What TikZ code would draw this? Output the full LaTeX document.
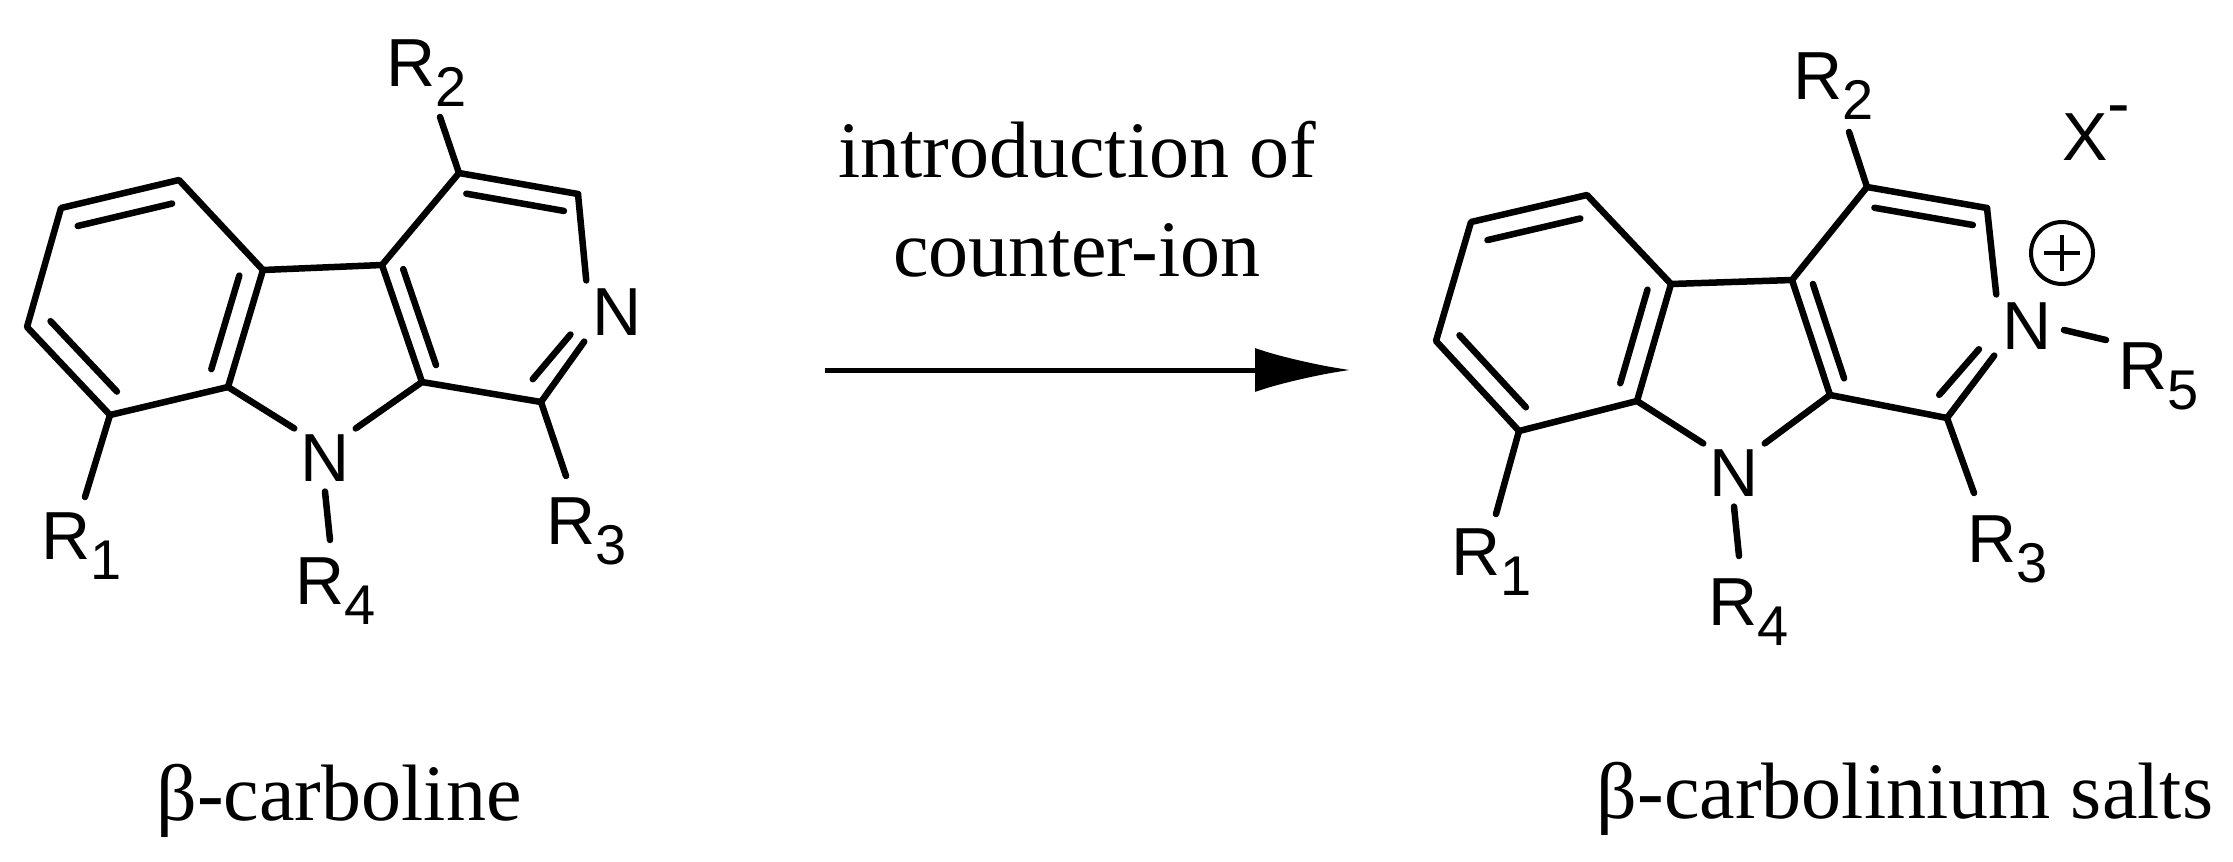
\documentclass[tikz,border=0pt]{standalone}
\usepackage{fontspec}
\setmainfont{Liberation Serif}
\newfontfamily\arial{Liberation Sans}
\usetikzlibrary{calc,arrows.meta}
\newcommand{\Rsub}[1]{R\raisebox{-0.3em}{\fontsize{56}{56}\selectfont #1}}
\begin{document}
\begin{tikzpicture}[x=1pt,y=-1pt,
  bond/.style={line width=6.5pt,line cap=round,line join=round},
  atom/.style={font={\arial\fontsize{68}{68}\selectfont},inner sep=0pt},
  rlab/.style={atom,anchor=base west},
  caption/.style={font={\fontsize{80}{82}\selectfont},inner sep=0pt,anchor=base}]
\useasboundingbox (0,0) rectangle (2233,862);
% left molecule
\coordinate (La1) at (179,180);
\coordinate (La2) at (61,208);
\coordinate (La3) at (27,327);
\coordinate (La4) at (110,415);
\coordinate (La5) at (228,387);
\coordinate (La6) at (263,270);
\coordinate (La7) at (382,265);
\coordinate (La8) at (459,173);
\coordinate (La9) at (578,194);
\coordinate (Lc1) at (541,402);
\coordinate (Lc9) at (422,382);
\coordinate (LNp) at (617,312);
\coordinate (LN9p) at (325,458);
\coordinate (Lr2) at (440,117);
\coordinate (Lr1) at (85,497);
\coordinate (Lr4) at (330,540);
\coordinate (Lr3) at (566,476);
\node[rlab] (LR2) at (386,86) {\Rsub{2}};
\node[rlab] (LR1) at (41,559) {\Rsub{1}};
\node[rlab] (LR4) at (295,604) {\Rsub{4}};
\node[rlab] (LR3) at (546,544) {\Rsub{3}};
% right molecule
\coordinate (Ra1) at (1587,195);
\coordinate (Ra2) at (1471,222);
\coordinate (Ra3) at (1436,341);
\coordinate (Ra4) at (1519,431);
\coordinate (Ra5) at (1637,401);
\coordinate (Ra6) at (1671,284);
\coordinate (Ra7) at (1792,280);
\coordinate (Ra8) at (1867,187);
\coordinate (Ra9) at (1987,208);
\coordinate (Rc1) at (1947,418);
\coordinate (Rc9) at (1830,395);
\coordinate (RNp) at (2027,326);
\coordinate (RN9p) at (1734,473);
\coordinate (Rr2) at (1849,132);
\coordinate (Rr1) at (1496,514);
\coordinate (Rr4) at (1739,556);
\coordinate (Rr3) at (1974,493);
\node[rlab] (RR2) at (1793,99) {\Rsub{2}};
\node[rlab] (RR1) at (1451,575) {\Rsub{1}};
\node[rlab] (RR4) at (1708,625) {\Rsub{4}};
\node[rlab] (RR3) at (1967,562) {\Rsub{3}};
\foreach \p in {L,R}{
\node[atom] (\p N2) at (\p Np) {N};
\node[atom] (\p N9) at (\p N9p) {N};
\coordinate (\p bc) at ($1/6*(\p a1)+1/6*(\p a2)+1/6*(\p a3)+1/6*(\p a4)+1/6*(\p a5)+1/6*(\p a6)$);
\coordinate (\p pc) at ($1/6*(\p a7)+1/6*(\p a8)+1/6*(\p a9)+1/6*(\p Np)+1/6*(\p c1)+1/6*(\p c9)$);
\draw[bond] (\p a1)--(\p a2)--(\p a3)--(\p a4)--(\p a5)--(\p a6)--cycle;
\draw[bond] (\p a6)--(\p a7)--(\p a8)--(\p a9);
\draw[bond] (\p a7)--(\p c9)--(\p c1);
\draw[bond] (\p a9)--($(\p N2.north west)+(-6,-8)$);
\draw[bond] (\p c1)--($(\p N2.south west)+(-8,6)$);
\draw[bond] (\p a5)--($(\p N9.north west)+(-6,-6)$);
\draw[bond] (\p c9)--($(\p N9.north east)+(6,-6)$);
\draw[bond] (\p a8)--(\p r2);
\draw[bond] (\p a4)--(\p r1);
\draw[bond] ($(\p N9.south)+(0,10)$)--(\p r4);
\draw[bond] (\p c1)--(\p r3);
\draw[bond] ($(\p a1)!0.2!(\p bc)$)--($(\p a2)!0.2!(\p bc)$);
\draw[bond] ($(\p a3)!0.2!(\p bc)$)--($(\p a4)!0.2!(\p bc)$);
\draw[bond] ($(\p a5)!0.2!(\p bc)$)--($(\p a6)!0.2!(\p bc)$);
\draw[bond] ($(\p a8)!0.18!(\p pc)$)--($(\p a9)!0.18!(\p pc)$);
\draw[bond] ($(\p a7)!0.18!(\p pc)$)--($(\p c9)!0.18!(\p pc)$);
\draw[bond] ($(\p c1)!0.2!(\p pc)$)--($($(\p c1)!0.2!(\p pc)$)!0.62!($(\p Np)!0.2!(\p pc)$)$);
}
% extra on salt
\coordinate (r5a) at (2064,330);
\coordinate (r5b) at (2106,340);
\draw[bond] (r5a)--(r5b);
\node[rlab] (R5) at (2118,389) {\Rsub{5}};
\node[draw,circle,line width=4pt,minimum size=62pt,inner sep=0pt] (plus) at (2062,253) {};
\draw[line width=4pt] ($(plus.center)+(-18,0)$)--($(plus.center)+(18,0)$) ($(plus.center)+(0,-18)$)--($(plus.center)+(0,18)$);
\node[rlab] (X) at (2062,160) {X\raisebox{0.5em}{-}};
% arrow
\coordinate (as) at (825,370);
\coordinate (ae) at (1350,370);
\draw[line width=5pt,-{Latex[length=95pt,width=44pt]}] (as)--(ae);
\node[caption] (t1) at (1077,177) {introduction of};
\node[caption] (t2) at (1077,276) {counter-ion};
\node[caption] (c1) at (339,820) {β-carboline};
\node[caption] (c2) at (1905,818) {β-carbolinium salts};
\end{tikzpicture}
\end{document}
